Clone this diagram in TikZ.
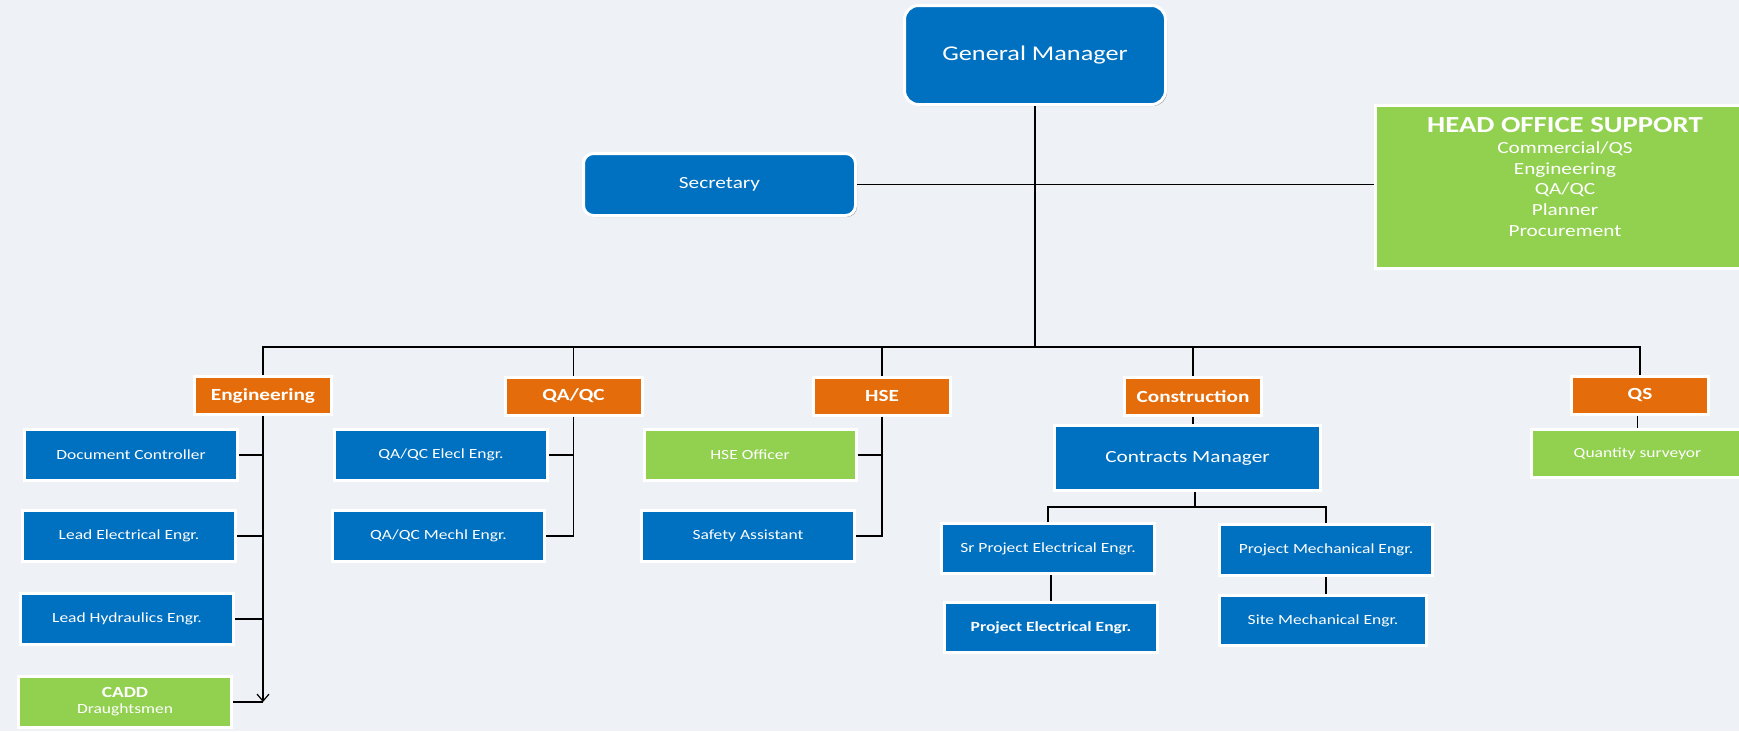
\documentclass[tikz,border=0pt]{standalone}
\usepackage{fontspec}
\setmainfont{Carlito}[FakeStretch=1.25]
\usetikzlibrary{shadows,arrows.meta}
\definecolor{bluec}{HTML}{0070C0}
\definecolor{orangec}{HTML}{E46C0A}
\definecolor{greenc}{HTML}{92D050}
\definecolor{bgc}{HTML}{EEF1F6}
\tikzset{
  box/.style={draw=white, line width=3pt, inner sep=0pt, text=white, align=center,
    drop shadow={shadow xshift=1.5pt, shadow yshift=-1.5pt, fill=black, opacity=0.35}},
  bluebox/.style={box, fill=bluec},
  greenbox/.style={box, fill=greenc},
  deptbox/.style={box, fill=orangec, minimum width=137pt, minimum height=38pt, font=\fontsize{17}{20}\selectfont\bfseries},
  staff/.style={minimum width=#1, minimum height=51pt, font=\fontsize{14}{17}\selectfont},
  conn/.style={draw=black, line width=1.2pt},
}
\begin{document}
\begin{tikzpicture}[x=1pt, y=-1pt]
\fill[bgc] (0,0) rectangle (1739,731);
\useasboundingbox (0,0) rectangle (1739,731);

% top level
\node[bluebox, rounded corners=14pt, minimum width=261pt, minimum height=99pt, font=\fontsize{21}{25}\selectfont] (gm) at (1035,55) {General Manager};
\node[bluebox, rounded corners=10pt, minimum width=272pt, minimum height=62pt, font=\fontsize{17}{20}\selectfont] (sec) at (719.5,184.5) {Secretary};
\node[greenbox, minimum width=379pt, minimum height=163pt] (hos) at (1565,187) {};
\node[text=white, align=center, inner sep=0pt, font=\fontsize{17}{20.8}\selectfont] (hostext) at (1565,177)
  {{\fontsize{23}{24}\selectfont\bfseries HEAD OFFICE SUPPORT}\\[0pt]Commercial/QS\\Engineering\\QA/QC\\Planner\\Procurement};

% departments
\node[deptbox] (eng) at (263,395.5) {Engineering};
\node[deptbox] (qa) at (573.5,396) {QA/QC};
\node[deptbox] (hse) at (882,396) {HSE};
\node[deptbox] (con) at (1193,396.5) {Construction};
\node[deptbox] (qs) at (1640,395) {QS};

% engineering staff
\node[bluebox, staff=213pt] (dc) at (131,455) {Document Controller};
\node[bluebox, staff=213pt] (le) at (129,536) {Lead Electrical Engr.};
\node[bluebox, staff=213pt] (lh) at (127,619) {Lead Hydraulics Engr.};
\node[greenbox, staff=213pt] (cadd) at (125,702) {{\fontsize{15.5}{16}\selectfont\bfseries CADD}\\[-1pt]Draughtsmen};

% QA/QC staff
\node[bluebox, staff=213pt] (qae) at (441,455) {QA/QC Elecl Engr.};
\node[bluebox, staff=212pt] (qam) at (438.5,536) {QA/QC Mechl Engr.};

% HSE staff
\node[greenbox, staff=212pt] (hseo) at (750,455) {HSE Officer};
\node[bluebox, staff=213pt] (sa) at (748,536) {Safety Assistant};

% construction staff
\node[bluebox, minimum width=266pt, minimum height=65pt, font=\fontsize{17}{21}\selectfont] (cm) at (1187.5,458) {Contracts Manager};
\node[bluebox, staff=213pt, minimum height=50pt] (spe) at (1048,548.5) {Sr Project Electrical Engr.};
\node[bluebox, staff=213pt, minimum height=50pt, font=\fontsize{14}{17}\selectfont\bfseries] (pe) at (1051,627.5) {Project Electrical Engr.};
\node[bluebox, staff=213pt] (pm) at (1326,550) {Project Mechanical Engr.};
\node[bluebox, staff=207pt, minimum height=50pt] (sm) at (1323,620.5) {Site Mechanical Engr.};

% QS staff
\node[greenbox, staff=213pt, minimum height=48pt] (qsv) at (1637.5,453.5) {Quantity surveyor};

% connectors
\coordinate (busc) at (1035,347);
\draw[conn] (gm.south) -- (busc);
\draw[conn] (sec.east) -- (hos.west |- sec.east);
\draw[conn] (eng.north) -- (eng.north |- busc) -- (qs.north |- busc) -- (qs.north);
\draw[conn] (qa.north |- busc) -- (qa.north);
\draw[conn] (hse.north |- busc) -- (hse.north);
\draw[conn] (con.north |- busc) -- (con.north);

\draw[conn, -{Straight Barb[length=7pt, width=12pt, line width=1.2pt]}] (eng.south) -- (eng.south |- cadd.east);
\draw[conn] (dc.east) -- (eng.south |- dc.east);
\draw[conn] (le.east) -- (eng.south |- le.east);
\draw[conn] (lh.east) -- (eng.south |- lh.east);
\draw[conn] (cadd.east) -- (eng.south |- cadd.east);

\draw[conn] (qa.south) -- (qa.south |- qam.east) -- (qam.east);
\draw[conn] (qae.east) -- (qa.south |- qae.east);

\draw[conn] (hse.south) -- (hse.south |- sa.east) -- (sa.east);
\draw[conn] (hseo.east) -- (hse.south |- hseo.east);

\draw[conn] (con.south) -- (con.south |- cm.north);
\coordinate (cmbus) at (1195,507);
\draw[conn] (cm.south -| cmbus) -- (cmbus);
\draw[conn] (spe.north) -- (spe.north |- cmbus) -- (pm.north |- cmbus) -- (pm.north);
\draw[conn] (spe.south -| pe.north) -- (pe.north);
\draw[conn] (pm.south) -- (pm.south |- sm.north);

\draw[conn] (qs.south -| qsv.north) -- (qsv.north);
\end{tikzpicture}
\end{document}
